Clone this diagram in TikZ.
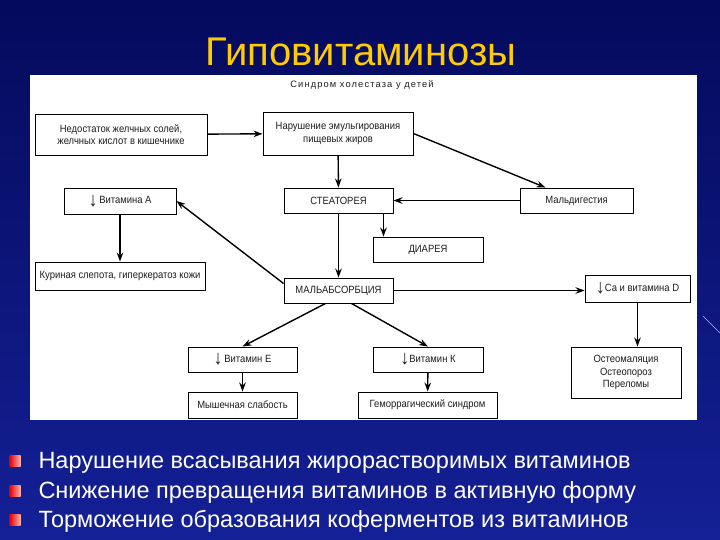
\documentclass[tikz,border=0pt]{standalone}
\usepackage{fontspec}
\setmainfont{Liberation Sans}
\newfontfamily\boxfont[FakeStretch=0.9]{Liberation Sans}
\newfontfamily\capfont[LetterSpace=12]{Liberation Sans}
\usetikzlibrary{arrows.meta, positioning, calc}
\definecolor{slidetop}{RGB}{4,10,92}
\definecolor{slidebot}{RGB}{20,32,150}
\definecolor{titlegold}{RGB}{255,204,0}
\definecolor{inkgray}{RGB}{30,30,30}
\newcommand{\dnarr}{\raisebox{-2.5pt}{\fontsize{20}{20}\selectfont ↓}}

\begin{document}
\begin{tikzpicture}[
    x=1pt, y=-1pt,
    box/.style={draw=black, line width=0.9pt, fill=white, inner sep=1pt, align=center, text=inkgray, font=\boxfont\fontsize{10.5}{12.5}\selectfont},
    arr/.style={-{Stealth[length=9pt, width=6.5pt]}, line width=1.4pt},
    bullet/.style={left color=red!90!black, right color=red!30!white, minimum size=11pt, inner sep=0pt},
    item/.style={anchor=base west, text=white, font=\fontsize{23.5}{27}\selectfont}
]
  \useasboundingbox (0,0) rectangle (720,540);
  \fill[top color=slidetop, bottom color=slidebot] (0,0) rectangle (720,540);
  \draw[white!70!blue, line width=0.6pt] (703,316) -- (720,333);
  \fill[white] (30,75) rectangle (697,420);

  \node[anchor=base, text=titlegold, font=\fontsize{40}{44}\selectfont] (title) at (361,66) {Гиповитаминозы};
  \node[anchor=base, text=inkgray, font=\capfont\fontsize{9.3}{11}\selectfont] (sub) at (362,88) {Синдром холестаза у детей};

  % Boxes
  \node[box, minimum width=172pt, minimum height=41pt] (nedost) at (121,134.5) {Недостаток желчных солей,\\желчных кислот в кишечнике};
  \node[box, minimum width=150pt, minimum height=43pt] (narush) at (338,133.5) {Нарушение эмульгирования\\пищевых жиров};
  \node[box, minimum width=112pt, minimum height=26pt] (vitA) at (120,201) {\dnarr\,Витамина А};
  \node[box, minimum width=109pt, minimum height=25pt] (steat) at (338.5,200.5) {СТЕАТОРЕЯ};
  \node[box, minimum width=113pt, minimum height=25pt] (maldig) at (576.5,200.5) {Мальдигестия};
  \node[box, minimum width=110pt, minimum height=25pt] (diar) at (428,249.5) {ДИАРЕЯ};
  \node[box, minimum width=170pt, minimum height=28pt] (kurin) at (120,276) {Куриная слепота, гиперкератоз кожи};
  \node[box, minimum width=109pt, minimum height=25pt] (malabs) at (338.5,290.5) {МАЛЬАБСОРБЦИЯ};
  \node[box, minimum width=105pt, minimum height=27pt] (caD) at (637.5,288.5) {\dnarr Са и витамина D};
  \node[box, minimum width=109pt, minimum height=25pt] (vitE) at (242.5,359.5) {\dnarr\,Витамин Е};
  \node[box, minimum width=110pt, minimum height=25pt] (vitK) at (428,359.5) {\dnarr Витамин К};
  \node[box, minimum width=110pt, minimum height=51pt] (osteo) at (626,372.5) {Остеомаляция\\Остеопороз\\Переломы};
  \node[box, minimum width=109pt, minimum height=26pt] (muscle) at (242.5,405) {Мышечная слабость};
  \node[box, minimum width=139pt, minimum height=26pt] (hemor) at (427.5,405) {Геморрагический синдром};

  % Connectors
  \draw[arr] (nedost) -- (narush);
  \draw[arr] (narush) -- (steat);
  \draw[arr] (narush.east) -- ([xshift=-31pt]maldig.north);
  \draw[arr] (maldig) -- (steat);
  \draw[arr] ([xshift=45pt]steat.south) -- ([xshift=45pt]steat.south |- diar.north);
  \draw[arr] (steat) -- (malabs);
  \draw[arr] ([yshift=7pt]malabs.west) -- (vitA.east);
  \draw[arr] (vitA) -- (kurin);
  \draw[arr] (malabs) -- (malabs -| caD.west);
  \draw[arr] (caD.south) -- (caD.south |- osteo.north);
  \draw[arr] ([xshift=-13pt]malabs.south) -- (vitE.north);
  \draw[arr] ([xshift=13pt]malabs.south) -- (vitK.north);
  \draw[arr] (vitE) -- (muscle);
  \draw[arr] (vitK) -- (hemor);

  % Bullet list
  \node[bullet] (b1) at (15,461) {};
  \node[bullet] (b2) at (15,491) {};
  \node[bullet] (b3) at (15,520) {};
  \node[item] (t1) at (35,468) {Нарушение всасывания жирорастворимых витаминов};
  \node[item] (t2) at (35,498) {Снижение превращения витаминов в активную форму};
  \node[item] (t3) at (35,527) {Торможение образования коферментов из витаминов};
\end{tikzpicture}
\end{document}
